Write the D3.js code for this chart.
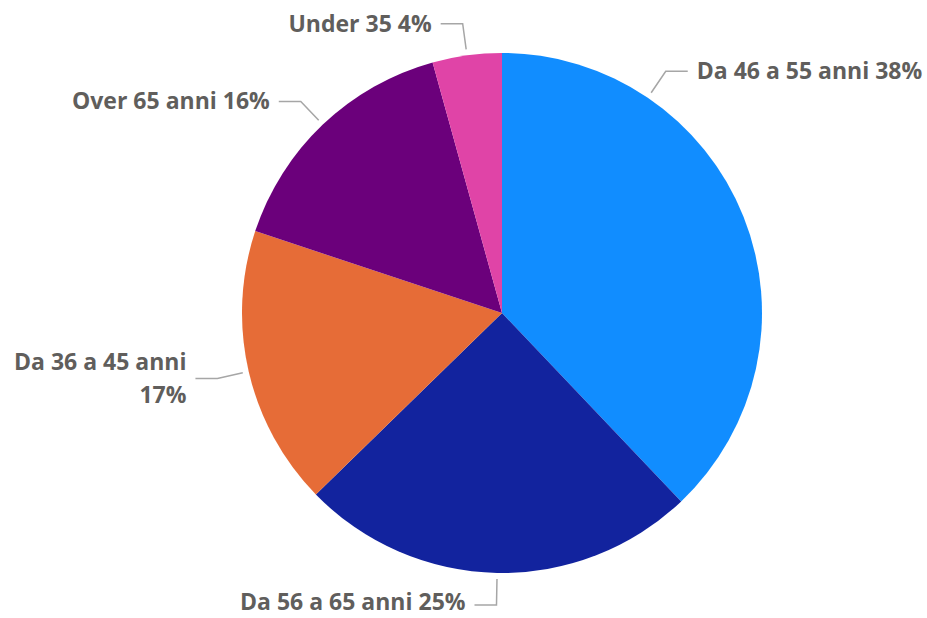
<!DOCTYPE html>
<html>
<head>
<meta charset="utf-8">
<script src="https://cdn.jsdelivr.net/npm/d3@7/dist/d3.min.js"></script>
<style>
  html, body { margin: 0; padding: 0; background: #fff; }
  svg { display: block; }
</style>
</head>
<body>
<div class="piecontainer"></div>
<script>
// slices, clockwise from 12 o'clock
const categories = ['Da 46 a 55 anni', 'Da 56 a 65 anni', 'Da 36 a 45 anni', 'Over 65 anni', 'Under 35'];
const values = [37.9, 24.8, 17.4, 15.6, 4.3];
const colors = ['#118DFF', '#12239E', '#E66C37', '#6B007B', '#E044A7'];
// where along each slice the leader line leaves the pie (0 = start, 1 = end)
const leaderAt = [0.25, 0.5, 0.5, 0.5, 0.5];

const width = 927;
const height = 618;
const cx = 502;
const cy = 313;
const radius = 260;

const svg = d3
  .select('.piecontainer')
  .append('svg')
  .attr('width', width)
  .attr('height', height);

const data = categories.map((c, i) => ({
  name: c,
  value: values[i],
  color: colors[i],
  at: leaderAt[i],
}));

const pie = d3
  .pie()
  .sort(null)
  .value(d => d.value);

const arcs = pie(data);
const total = d3.sum(values);

const arc = d3.arc().innerRadius(0).outerRadius(radius);

const g = svg.append('g').attr('transform', `translate(${cx},${cy})`);

g.selectAll('.slice')
  .data(arcs)
  .enter()
  .append('path')
  .attr('class', 'slice')
  .attr('d', arc)
  .attr('fill', d => d.data.color);

// leader lines + labels
const pt = (a, r) => [r * Math.sin(a), -r * Math.cos(a)];

const labels = g.append('g').attr('class', 'labels');

arcs.forEach(d => {
  const a = d.startAngle + (d.endAngle - d.startAngle) * d.data.at;
  const side = Math.sin(a) >= 0 ? 1 : -1;
  const p0 = pt(a, radius + 6);
  const p1 = pt(a, radius + 32);
  const p2 = [p1[0] + side * 22, p1[1]];

  labels
    .append('polyline')
    .attr('points', [p0, p1, p2].map(p => p.join(',')).join(' '))
    .attr('fill', 'none')
    .attr('stroke', '#A6A6A6')
    .attr('stroke-width', 1.5);

  const pct = `${d3.format('.0f')((d.data.value / total) * 100)}%`;
  const tx = p2[0] + side * 9;
  const text = labels
    .append('text')
    .attr('x', tx)
    .attr('y', p2[1])
    .attr('dy', '0.35em')
    .attr('text-anchor', side > 0 ? 'start' : 'end')
    .style('font', 'bold 23px "Open Sans", sans-serif')
    .style('fill', '#605E5C')
    .text(`${d.data.name} ${pct}`);

  // wrap the percentage onto a second line when the label runs off the page
  const len = text.node().getComputedTextLength();
  const room = side > 0 ? width - (cx + tx) - 4 : cx + tx - 4;
  if (len > room) {
    text.text(null).attr('dy', null);
    text
      .append('tspan')
      .attr('x', tx)
      .attr('dy', '-0.35em')
      .text(d.data.name);
    text
      .append('tspan')
      .attr('x', tx)
      .attr('dy', '1.4em')
      .text(pct);
  }

  // keep the label box inside the page vertically
  const bb = text.node().getBBox();
  const over = cy + bb.y + bb.height - (height - 1);
  if (over > 0) text.attr('y', p2[1] - over);
  const under = -(cy + bb.y);
  if (under > 0) text.attr('y', p2[1] + under);
});
</script>
</body>
</html>
